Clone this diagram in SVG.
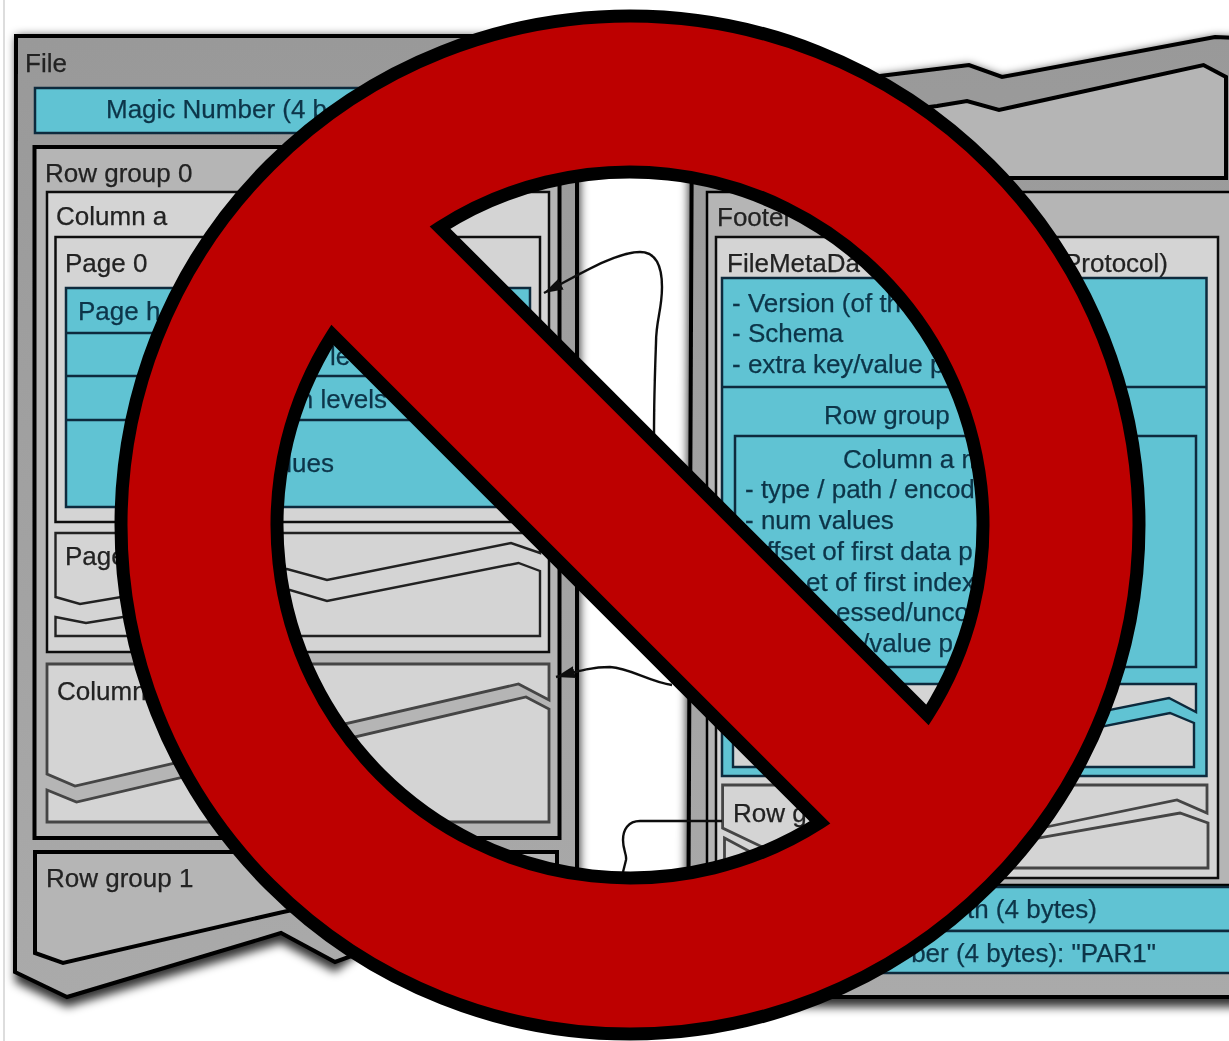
<svg xmlns="http://www.w3.org/2000/svg" width="1229" height="1041" viewBox="0 0 1229 1041">
<style>
text{font-family:"Liberation Sans",Arial,sans-serif;font-size:26px;fill:#222;stroke:#222;stroke-width:.25}
.c{fill:#0c3448;stroke:#0c3448}
.file{fill:url(#fg);stroke:#000;stroke-width:4}
.rg{fill:#b5b5b5;stroke:#000;stroke-width:4}
.box{fill:#d4d4d4;stroke:#111;stroke-width:2.5}
.torn{fill:#d4d4d4;stroke:#444;stroke-width:2.8}
.thin{fill:#d4d4d4;stroke:#222;stroke-width:2.4}
.cy{fill:#60c3d3;stroke:#0c2a3d;stroke-width:2.5}
.div{fill:none;stroke:#0c2a3d;stroke-width:2.5}
.con{fill:none;stroke:#111;stroke-width:2.4}
</style>
<defs>
<linearGradient id="fg" x1="0" y1="0" x2="0" y2="1"><stop offset="0" stop-color="#999"/><stop offset="1" stop-color="#aaa"/></linearGradient>
<filter id="soft" x="-2%" y="-2%" width="104%" height="104%"><feGaussianBlur stdDeviation="0.75"/></filter>
<filter id="shadow" x="-5%" y="-5%" width="110%" height="110%"><feGaussianBlur stdDeviation="5"/></filter>
<marker id="arrow" markerUnits="userSpaceOnUse" markerWidth="20" markerHeight="14" refX="19" refY="7" orient="auto-start-reverse"><path d="M0 1L19 7L0 13Z" fill="#111"/></marker>
</defs>
<rect width="1229" height="1041" fill="#fff"/>
<path d="M4 0V1041" stroke="#ddd" stroke-width="2" fill="none"/>
<g id="shadows" filter="url(#shadow)" fill="#000" fill-opacity=".8">
<polygon points="16,36 580,36 580,905 400,930 360,953 335,972 281,943 67,1007 15,982"/>
<polygon points="689,99 888,75 969,65 1002,77 1215,37 1240,38 1240,1007 685,1007"/>
</g>
<g filter="url(#soft)">
<g id="file-left">
<polygon class="file" points="16,36 577,36 577,905 400,930 360,953 335,962 281,933 67,997 15,972"/>
<text x="25" y="72">File</text>
</g>
<g id="file-right">
<polygon class="file" points="692,99 888,75 969,65 1002,77 1215,37 1240,38 1240,997 688,997"/>
</g>
<g id="magic-top">
<rect class="cy" x="35" y="88" width="524" height="45"/>
<text class="c" x="106" y="118">Magic Number (4 b</text>
</g>
<g id="row-group-0">
<rect class="rg" x="34.5" y="147" width="525" height="691"/>
<text x="45" y="182">Row group 0</text>
</g>
<g id="column-a">
<rect class="box" x="47" y="192" width="502" height="460"/>
<text x="56" y="225">Column a</text>
</g>
<g id="page-0">
<rect class="box" x="55.5" y="237" width="484.5" height="285"/>
<text x="65" y="272">Page 0</text>
</g>
<g id="page-content">
<rect class="cy" x="66" y="288" width="464" height="219"/>
<path class="div" d="M66 333H530M66 376H530M66 420H530"/>
<text class="c" x="78" y="320">Page h</text>
<text class="c" x="330" y="365">le</text>
<text class="c" x="387" y="408" text-anchor="end">n levels</text>
<text class="c" x="334" y="472" text-anchor="end">lues</text>
</g>
<g id="page-1">
<polygon class="thin" points="55.5,533 540,533 540,553 511,543 327,580 287,569 80,604 55.5,597"/>
<polygon class="thin" points="55.5,617 86,623 290,590 327,601 518.5,563 540,571 540,636 55.5,636"/>
<text x="65" y="565">Page</text>
</g>
<g id="column-b">
<polygon class="torn" points="47,664 549,664 549,700 518.5,684 75,786 47,774"/>
<polygon class="torn" points="47,790 76.5,802 526,697 549,709 549,822 47,822"/>
<text x="57" y="700">Column</text>
</g>
<g id="row-group-1">
<polygon class="rg" points="35,852 557,852 557,900 340,900 283,912 63,963 35,953"/>
<text x="46" y="887">Row group 1</text>
</g>
<g id="row-group-n">
<polygon class="rg" points="707,135 937,106 967,101 999,110 1203.5,65 1226,77 1226,178 707,178"/>
</g>
<g id="footer">
<rect class="rg" style="stroke-width:2.5" x="707" y="192" width="533" height="693"/>
<text x="717" y="226">Footer</text>
</g>
<g id="file-metadata">
<rect class="box" x="716" y="237" width="502" height="641"/>
<text x="727" y="272">FileMetaDa</text>
<text x="1168" y="272" text-anchor="end">Protocol)</text>
</g>
<g id="metadata-content">
<rect class="cy" x="722" y="278" width="484.5" height="498"/>
<path class="div" d="M722 387H1206"/>
<text class="c" x="732" y="312">- Version (of th</text>
<text class="c" x="732" y="342">- Schema</text>
<text class="c" x="732" y="373">- extra key/value p</text>
<text class="c" x="824" y="424">Row group</text>
</g>
<g id="column-a-meta">
<rect class="cy" x="735" y="436" width="461" height="231"/>
<text class="c" x="843" y="468">Column a m</text>
<text class="c" x="745" y="498">- type / path / encod</text>
<text class="c" x="745" y="529">- num values</text>
<text class="c" x="752" y="560">offset of first data p</text>
<text class="c" x="806" y="591">et of first index</text>
<text class="c" x="836" y="621">essed/unco</text>
<text class="c" x="862" y="652">/value p</text>
</g>
<g id="column-b-meta">
<polygon class="thin" style="stroke:#0c2a3d" points="733,684 1196,684 1196,712 1169,698 1000,732 733,725"/>
<polygon class="thin" style="stroke:#0c2a3d" points="733,730 1000,747 1170,713 1194,723 1194,767 733,767"/>
</g>
<g id="row-group-meta">
<polygon class="torn" points="722.6,785 1207,785 1207,813 1177,800 1046,827 900,860 775,853 722.6,828"/>
<polygon class="torn" points="724.5,838 775,865 900,880 1038,838 1180,813 1208,823 1208,868 724.5,868"/>
<text x="733" y="822">Row g</text>
</g>
<g id="footer-length">
<rect class="cy" x="707" y="887" width="533" height="44"/>
<text class="c" x="1097" y="918" text-anchor="end">th (4 bytes)</text>
</g>
<g id="magic-bottom">
<rect class="cy" x="707" y="931" width="533" height="42"/>
<text class="c" x="1156" y="962" text-anchor="end">ber (4 bytes): "PAR1"</text>
</g>
<g id="connectors">
<path class="con" marker-start="url(#arrow)" d="M544 293C575 277 615 252 640 252C655 252 662 265 662 287C662 310 656 320 656 343C655 370 654 400 654 435"/>
<path class="con" marker-start="url(#arrow)" d="M556 677C575 672 590 667 610 667C630 668 650 682 672 685"/>
<path class="con" d="M722 821L640 821C628 821 623 830 623 840C623 850 627 855 626 860L623 872"/>
</g>
</g>
<g id="no-sign">
<path fill="#bd0000" fill-rule="evenodd" stroke="#000" stroke-width="13" stroke-linejoin="miter" stroke-miterlimit="20" d="M630 16A509 509 0 1 1 630 1034A509 509 0 1 1 630 16ZM440 227.5A353 353 0 0 1 927.5 715ZM820 822.5A353 353 0 0 1 332.5 335Z"/>
</g>
</svg>
